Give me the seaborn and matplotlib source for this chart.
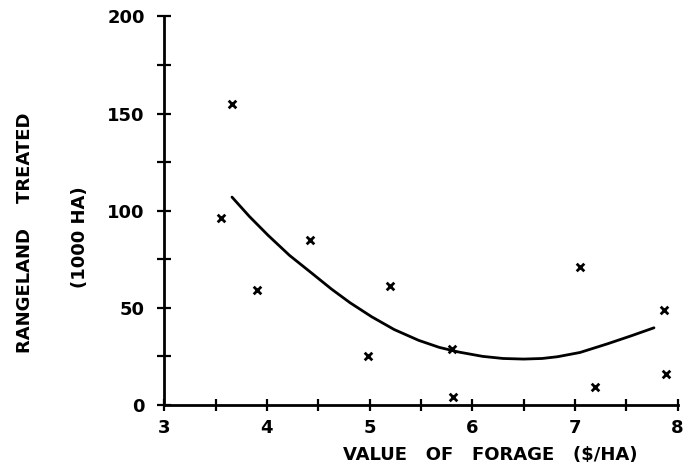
"""
Rangeland treated vs. value of forage, with a fitted quadratic curve.

Writes out.png (690x470).
"""
import matplotlib

matplotlib.use("Agg")  # no display in the sandbox
import matplotlib.pyplot as plt
import pandas as pd
import seaborn as sns
from matplotlib.ticker import MultipleLocator

# ---- data ----------------------------------------------------------------- #
forage_value = [3.55, 3.66, 3.90, 4.42, 4.98, 5.20, 5.80, 5.81, 7.05, 7.20, 7.87, 7.89]
area_treated = [96, 155, 59, 85, 25, 61, 29, 4, 71, 9, 49, 16]

# fitted curve, points
fit_x = [3.66, 3.83, 4.01, 4.22, 4.44, 4.63, 4.81, 5.02, 5.24, 5.48, 5.68,
         5.87, 6.10, 6.30, 6.50, 6.68, 6.83, 7.05, 7.32, 7.55, 7.77]
fit_y = [107.0, 97.0, 87.4, 77.0, 67.7, 59.6, 52.6, 45.4, 38.8, 33.2, 29.6,
         27.2, 25.0, 23.9, 23.6, 23.9, 24.8, 27.0, 31.5, 35.6, 39.7]

x_ticks = [3, 4, 5, 6, 7, 8]
y_ticks = [0, 50, 100, 150, 200]

points = pd.DataFrame({"value": forage_value, "treated": area_treated})
curve = pd.DataFrame({"value": fit_x, "treated": fit_y})

sns.set_style("ticks")
plt.rcParams["font.family"] = ["DejaVu Sans"]
plt.rcParams["font.weight"] = "bold"
for key in ("text.color", "axes.labelcolor", "xtick.color", "ytick.color",
            "axes.edgecolor"):
    plt.rcParams[key] = "black"

fig = plt.figure(figsize=(6.9, 4.7), dpi=100)
ax = fig.add_axes([0.238, 0.1385, 0.744, 0.8265])

sns.lineplot(data=curve, x="value", y="treated", ax=ax, color="black",
             linewidth=2.0, sort=False)
sns.scatterplot(data=points, x="value", y="treated", ax=ax, marker="x",
                color="black", s=30, linewidth=2.0, clip_on=False, zorder=3)

ax.set_xlim(3, 8)
ax.set_ylim(0, 200)
ax.set_xticks(x_ticks)
ax.set_yticks(y_ticks)
ax.xaxis.set_minor_locator(MultipleLocator(0.5))
ax.yaxis.set_minor_locator(MultipleLocator(25))

for side in ("top", "right"):
    ax.spines[side].set_visible(False)
for side in ("left", "bottom"):
    ax.spines[side].set_linewidth(2.0)

ax.tick_params(axis="both", which="both", direction="inout", width=1.6,
               color="black", labelcolor="black", labelsize=13)
ax.tick_params(axis="y", which="both", length=10, pad=9)
ax.tick_params(axis="x", which="both", length=8, pad=6)

ax.set_xlabel("")
ax.set_ylabel("")

fig.text(0.71, 0.032, "VALUE   OF   FORAGE   ($/HA)", ha="center",
         va="center", fontsize=13, fontweight="bold")
fig.text(0.036, 0.505, "RANGELAND    TREATED", ha="center", va="center",
         rotation=90, fontsize=13, fontweight="bold")
fig.text(0.116, 0.495, "(1000 HA)", ha="center", va="center",
         rotation=90, fontsize=13, fontweight="bold")

fig.savefig("out.png", dpi=100, facecolor="white")
plt.close(fig)
